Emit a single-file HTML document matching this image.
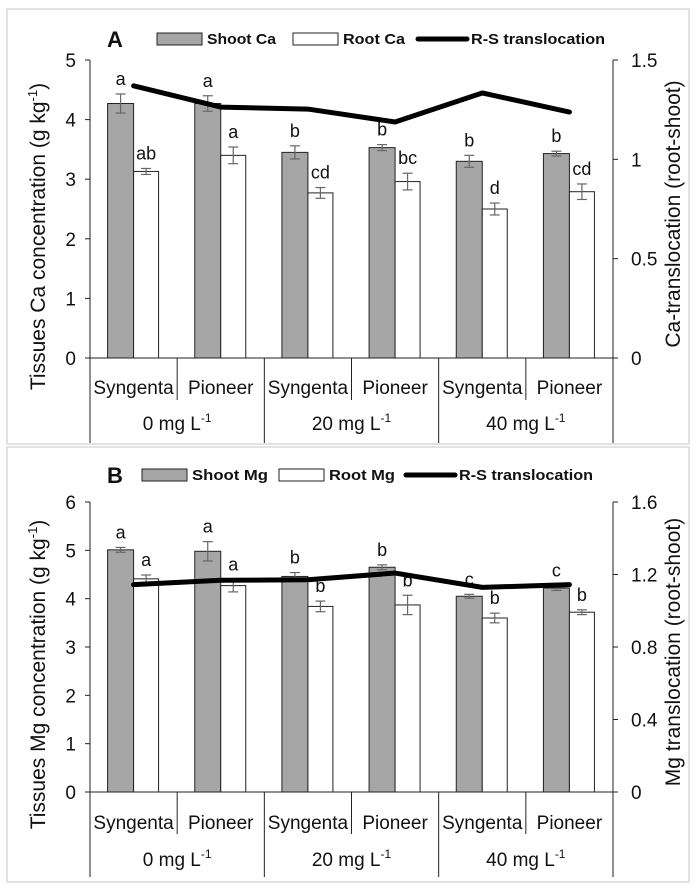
<!DOCTYPE html>
<html><head><meta charset="utf-8">
<style>
html,body{margin:0;padding:0;background:#fff;}
svg{display:block;font-family:"Liberation Sans",sans-serif;}
</style></head>
<body>
<svg id="chart" width="697" height="890" viewBox="0 0 697 890"></svg>
<script>
// ---- Data ----
const categories = ["Syngenta","Pioneer","Syngenta","Pioneer","Syngenta","Pioneer"];
const groups = ["0 mg L","20 mg L","40 mg L"];
const shootCa = [4.27,4.27,3.45,3.53,3.30,3.43];
const shootCaErr = [0.16,0.13,0.11,0.05,0.10,0.04];
const rootCa = [3.13,3.40,2.77,2.96,2.50,2.79];
const rootCaErr = [0.05,0.14,0.09,0.14,0.10,0.13];
const transCa = [1.37,1.263,1.253,1.188,1.334,1.238];
const shootCaLetters = ["a","a","b","b","b","b"];
const rootCaLetters = ["ab","a","cd","bc","d","cd"];
const leftTicksA = [0,1,2,3,4,5];
const rightTicksA = [0,0.5,1,1.5];

const shootMg = [5.01,4.98,4.46,4.65,4.05,4.22];
const shootMgErr = [0.05,0.2,0.08,0.05,0.04,0.05];
const rootMg = [4.41,4.27,3.84,3.87,3.60,3.72];
const rootMgErr = [0.08,0.13,0.11,0.2,0.1,0.05];
const transMg = [1.144,1.168,1.171,1.208,1.129,1.144];
const shootMgLetters = ["a","a","b","b","c","c"];
const rootMgLetters = ["a","a","b","b","b","b"];
const leftTicksB = [0,1,2,3,4,5,6];
const rightTicksB = [0,0.4,0.8,1.2,1.6];

const NS = "http://www.w3.org/2000/svg";
const svg = document.getElementById("chart");
function mk(tag, attrs, parent, text){
  const e = document.createElementNS(NS, tag);
  for (const k in attrs) e.setAttribute(k, attrs[k]);
  if (text !== undefined) e.textContent = text;
  (parent || svg).appendChild(e);
  return e;
}

function panel(cfg){
  const g = mk("g", {});
  
  
  const x0 = 90, x1 = 613, top = cfg.top, base = cfg.base;
  const cw = (x1 - x0) / categories.length;
  const yL = v => base - (v / cfg.lmax) * (base - top);
  const yR = v => base - (v / cfg.rmax) * (base - top);
  const cx = i => x0 + cw * (i + 0.5);

  const fr = mk("rect", {x:7, y:cfg.frameTop, width:682, height:cfg.frameH, fill:"none", stroke:"#d9d9d9", "stroke-width":1.5}, g);
  
  

  const pl = mk("text", {x:107, y:cfg.legY + 8, "font-size":22, "font-weight":"bold", fill:"#111"}, g, cfg.letter);
  
  

  const lg = mk("g", {}, g);
  
  
  const ly = cfg.legY;
  const e1 = mk("g", {}, lg);
  
  
  mk("rect", {x:cfg.legX[0], y:ly-6, width:45, height:12, fill:"#a6a6a6", stroke:"#222", "stroke-width":1}, e1);
  mk("text", {x:cfg.legX[0]+50, y:ly+5, "font-size":15, "font-weight":"bold", fill:"#111", textLength:cfg.legW[0], lengthAdjust:"spacingAndGlyphs"}, e1, cfg.legShoot);
  const e2 = mk("g", {}, lg);
  
  
  mk("rect", {x:cfg.legX[1], y:ly-6, width:45, height:12, fill:"#fff", stroke:"#222", "stroke-width":1}, e2);
  mk("text", {x:cfg.legX[1]+50, y:ly+5, "font-size":15, "font-weight":"bold", fill:"#111", textLength:cfg.legW[1], lengthAdjust:"spacingAndGlyphs"}, e2, cfg.legRoot);
  const e3 = mk("g", {}, lg);
  
  
  mk("line", {x1:cfg.legX[2], y1:ly, x2:cfg.legX[2]+49, y2:ly, stroke:"#000", "stroke-width":5, "stroke-linecap":"round"}, e3);
  mk("text", {x:cfg.legX[2]+53, y:ly+5, "font-size":15, "font-weight":"bold", fill:"#111", textLength:134, lengthAdjust:"spacingAndGlyphs"}, e3, "R-S translocation");

  const la = mk("g", {}, g);
  
  
  mk("line", {x1:x0, y1:top, x2:x0, y2:cfg.bottom, stroke:"#222", "stroke-width":1}, la);
  cfg.lticks.forEach(t => {
    mk("line", {x1:x0-5, y1:yL(t), x2:x0, y2:yL(t), stroke:"#222"}, la);
    const tl = mk("text", {x:76, y:yL(t)+7, "font-size":19, "text-anchor":"end", fill:"#111"}, la, String(t));
    
    
  });
  const lt = mk("text", {transform:`translate(45,${(top+cfg.bottom)/2 - 15}) rotate(-90)`, "font-size":21, "text-anchor":"middle", fill:"#111"}, g);
  
  
  lt.appendChild(document.createTextNode(cfg.ltitle + " (g kg"));
  mk("tspan", {"font-size":13, dy:-8}, lt, "-1");
  mk("tspan", {dy:8}, lt, ")");

  const ra = mk("g", {}, g);
  
  
  mk("line", {x1:x1, y1:top, x2:x1, y2:cfg.bottom, stroke:"#222", "stroke-width":1}, ra);
  cfg.rticks.forEach(t => {
    mk("line", {x1:x1, y1:yR(t), x2:x1+5, y2:yR(t), stroke:"#222"}, ra);
    const tl = mk("text", {x:631, y:yR(t)+7, "font-size":19, fill:"#111"}, ra, String(t));
    
    
  });
  const rt = mk("text", {transform:`translate(680,${(top+base)/2 + 5}) rotate(-90)`, "font-size":21, "text-anchor":"middle", fill:"#111"}, g, cfg.rtitle);
  
  

  mk("line", {x1:x0, y1:base, x2:x1, y2:base, stroke:"#222"}, g);
  for (let i = 1; i < categories.length; i++){
    const xx = x0 + cw * i;
    mk("line", {x1:xx, y1:base, x2:xx, y2:(i % 2 === 0) ? cfg.bottom : cfg.catDivEnd, stroke:"#222"}, g);
  }
  categories.forEach((c, i) => {
    const t = mk("text", {x:cx(i), y:cfg.catY, "font-size":19, "text-anchor":"middle", fill:"#111"}, g, c);
    
    
  });
  groups.forEach((gn, j) => {
    const t = mk("text", {x:x0 + cw * (2*j + 1), y:cfg.grpY, "font-size":19, "text-anchor":"middle", fill:"#111"}, g, gn);
    
    
    mk("tspan", {"font-size":12, dy:-8}, t, "-1");
  });

  for (let i = 0; i < categories.length; i++){
    const c = cx(i);
    const sb = mk("rect", {x:c-26, y:yL(cfg.shoot[i]), width:26, height:base - yL(cfg.shoot[i]), fill:"#a6a6a6", stroke:"#222", "stroke-width":1}, g);
    
    
    const rb = mk("rect", {x:c, y:yL(cfg.root[i]), width:25, height:base - yL(cfg.root[i]), fill:"#fff", stroke:"#222", "stroke-width":1}, g);
    
    
    [[c-13, cfg.shoot[i], cfg.shootErr[i], cfg.shootLet[i]], [c+12.5, cfg.root[i], cfg.rootErr[i], cfg.rootLet[i]]].forEach(([ex, v, e, lt]) => {
      const eb = mk("g", {stroke:"#666", "stroke-width":1.2}, g);
      
      
      mk("line", {x1:ex, y1:yL(v+e), x2:ex, y2:yL(v-e)}, eb);
      mk("line", {x1:ex-5, y1:yL(v+e), x2:ex+5, y2:yL(v+e)}, eb);
      mk("line", {x1:ex-5, y1:yL(v-e), x2:ex+5, y2:yL(v-e)}, eb);
      const lbl = mk("text", {x:ex, y:yL(v+e) - 9, "font-size":18, "text-anchor":"middle", fill:"#111"}, g, lt);
      
      
    });
  }

  const pts = cfg.trans.map((v, i) => `${cx(i)},${yR(v)}`).join(" ");
  const pl2 = mk("polyline", {points:pts, fill:"none", stroke:"#000", "stroke-width":5, "stroke-linejoin":"round", "stroke-linecap":"round"}, g);
  
  
}

panel({name:"panel-a-calcium", letter:"A", top:60, base:358, bottom:443, catDivEnd:400, catY:394, grpY:430,
  frameTop:9, frameH:435, legY:39, legX:[157,293,418], legW:[69,62],
  legShoot:"Shoot Ca", legRoot:"Root Ca", lmax:5, rmax:1.5, lticks:leftTicksA, rticks:rightTicksA,
  ltitle:"Tissues Ca concentration", rtitle:"Ca-translocation (root-shoot)",
  shoot:shootCa, shootErr:shootCaErr, root:rootCa, rootErr:rootCaErr, trans:transCa,
  shootLet:shootCaLetters, rootLet:rootCaLetters});

panel({name:"panel-b-magnesium", letter:"B", top:502, base:792, bottom:877, catDivEnd:834, catY:829, grpY:866,
  frameTop:447, frameH:435, legY:475, legX:[142,279,406], legW:[76,66],
  legShoot:"Shoot Mg", legRoot:"Root Mg", lmax:6, rmax:1.6, lticks:leftTicksB, rticks:rightTicksB,
  ltitle:"Tissues Mg concentration", rtitle:"Mg translocation (root-shoot)",
  shoot:shootMg, shootErr:shootMgErr, root:rootMg, rootErr:rootMgErr, trans:transMg,
  shootLet:shootMgLetters, rootLet:rootMgLetters});
</script>
</body></html>
